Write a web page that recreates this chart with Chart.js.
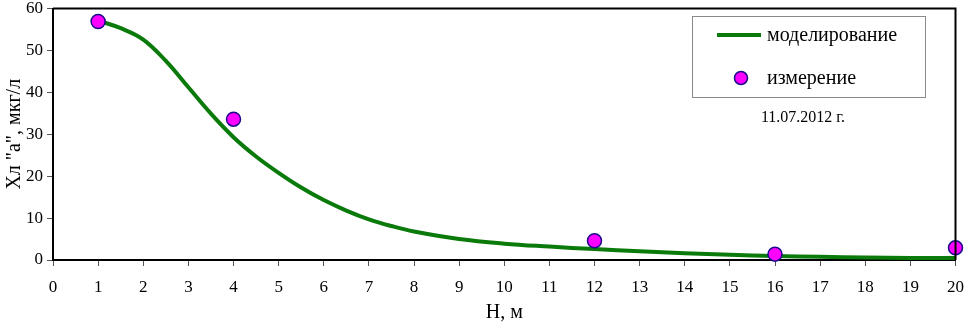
<!DOCTYPE html>
<html>
<head>
<meta charset="utf-8">
<script src="https://cdn.jsdelivr.net/npm/chart.js@4"></script>
<style>
  body { margin: 0; background: #fff; }
  #wrap { width: 964px; height: 323px; }
</style>
</head>
<body>
<div id="wrap"><canvas id="chart" width="964" height="323"></canvas></div>
<script>
// measured points
const depthMeasured = [1, 4, 12, 16, 20];
const chlMeasured = [56.9, 33.6, 4.6, 1.4, 2.9];

// model curve
const depthModel = [1, 1.5, 2, 2.5, 3, 3.5, 4, 4.5, 5, 5.5, 6, 6.5, 7, 7.5, 8, 9, 10, 11, 12, 13, 14, 15, 16, 17, 18, 19, 20];
const chlModel = [57.1, 55.3, 52.6, 47.5, 41.2, 34.9, 29.3, 24.7, 20.8, 17.3, 14.3, 11.8, 9.7, 8.1, 6.8, 5.0, 3.9, 3.2, 2.6, 2.1, 1.6, 1.25, 0.95, 0.75, 0.6, 0.5, 0.45];

const seriesNames = ['моделирование', 'измерение'];
const dateLabel = '11.07.2012 г.';
const xTitle = 'H, м';
const yTitle = 'Хл "а", мкг/л';

const FONT = "'Liberation Serif', 'Times New Roman', serif";
const GREEN = '#0a7a0a';
const PINK = '#ff00ff';
const NAVY = '#1c0a8c';

const toXY = (xs, ys) => xs.map((x, i) => ({ x: x, y: ys[i] }));

// no extra room for overflowing tick labels
const noPad = (scale) => {
  scale.paddingLeft = 0;
  scale.paddingRight = 0;
  scale.paddingTop = 0;
  scale.paddingBottom = 0;
};

// frame + custom legend box
const frameLegend = {
  id: 'frameLegend',
  afterDraw(chart) {
    const c = chart.ctx;
    const a = chart.chartArea;
    c.save();
    c.strokeStyle = '#000';
    c.lineWidth = 2;
    c.beginPath();
    c.moveTo(a.left, a.top);
    c.lineTo(a.right, a.top);
    c.lineTo(a.right, a.bottom);
    c.stroke();

    // legend box
    c.fillStyle = '#fff';
    c.fillRect(692, 16, 233, 81);
    c.strokeStyle = '#8a8a8a';
    c.lineWidth = 1;
    c.strokeRect(692.5, 16.5, 233, 81);

    c.font = '20px ' + FONT;
    c.textBaseline = 'middle';
    c.textAlign = 'left';
    c.fillStyle = '#000';

    c.strokeStyle = GREEN;
    c.lineWidth = 4;
    c.beginPath();
    c.moveTo(717, 35);
    c.lineTo(761, 35);
    c.stroke();
    c.fillText(seriesNames[0], 767, 36);

    c.beginPath();
    c.arc(741, 78, 6.5, 0, Math.PI * 2);
    c.fillStyle = PINK;
    c.fill();
    c.strokeStyle = NAVY;
    c.lineWidth = 1.5;
    c.stroke();
    c.fillStyle = '#000';
    c.fillText(seriesNames[1], 767, 79);

    c.font = '16px ' + FONT;
    c.textAlign = 'center';
    c.fillText(dateLabel, 803, 118);
    c.restore();
  }
};

const ctx = document.getElementById('chart').getContext('2d');
const chart = new Chart(ctx, {
  type: 'line',
  data: {
    datasets: [{
      label: seriesNames[1],
      data: toXY(depthMeasured, chlMeasured),
      showLine: false,
      pointRadius: 7,
      pointBackgroundColor: PINK,
      pointBorderColor: NAVY,
      pointBorderWidth: 1.5,
      order: 0
    }, {
      label: seriesNames[0],
      data: toXY(depthModel, chlModel),
      borderColor: GREEN,
      borderWidth: 4,
      pointRadius: 0,
      tension: 0.4,
      fill: false,
      order: 1
    }]
  },
  options: {
    responsive: false,
    animation: false,
    clip: false,
    layout: { padding: { top: 6, right: 8 } },
    plugins: {
      legend: { display: false },
      tooltip: { enabled: false }
    },
    scales: {
      x: {
        type: 'linear',
        min: 0,
        max: 20,
        ticks: { stepSize: 1, color: '#000', font: { family: FONT, size: 17 }, padding: 11, maxRotation: 0 },
        grid: { drawOnChartArea: false, tickLength: 6, color: '#555' },
        border: { color: '#000', width: 2 },
        title: { display: true, text: xTitle, color: '#000', font: { family: FONT, size: 20 }, padding: { top: 0, bottom: -2 } },
        afterFit(scale) { scale.height = 63; noPad(scale); }
      },
      y: {
        min: 0,
        max: 60,
        ticks: { stepSize: 10, color: '#000', font: { family: FONT, size: 17 }, padding: 4 },
        grid: { drawOnChartArea: false, tickLength: 6, color: '#555' },
        border: { color: '#000', width: 2 },
        title: { display: true, text: yTitle, color: '#000', font: { family: FONT, size: 20 }, padding: { top: 3, bottom: 0 } },
        afterFit(scale) { scale.width = 53; noPad(scale); }
      }
    }
  },
  plugins: [frameLegend]
});
</script>
</body>
</html>
